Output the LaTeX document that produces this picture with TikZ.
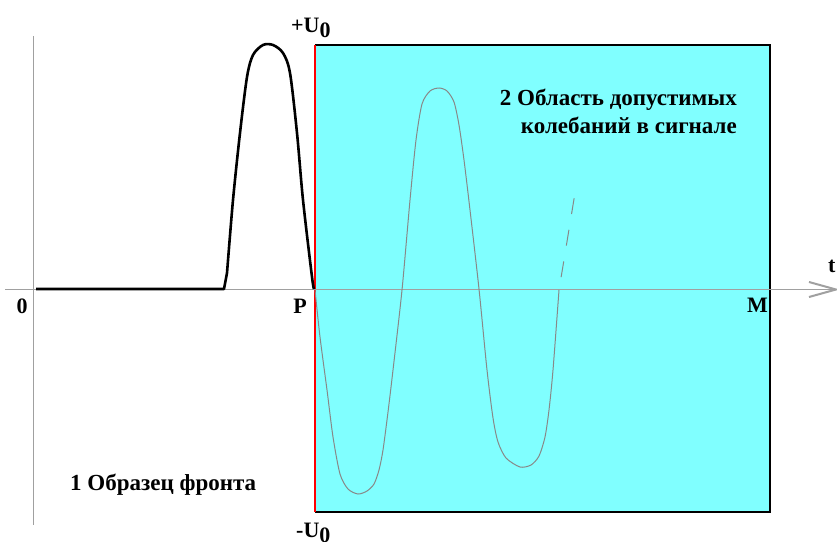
\documentclass[tikz,border=0pt]{standalone}
\usepackage{fontspec}
\setmainfont{Liberation Serif}
\definecolor{areacyan}{HTML}{80FFFF}
\definecolor{axisgray}{HTML}{A0A0A0}
\definecolor{curvegray}{HTML}{888888}
\begin{document}
\begin{tikzpicture}[x=1pt,y=-1pt,
  lbl/.style={font=\fontsize{22}{22}\selectfont\bfseries, inner sep=0pt},
  note/.style={font=\fontsize{23}{28}\selectfont\bfseries, inner sep=0pt, align=right},
  axisline/.style={axisgray, line width=1.2pt},
  wave/.style={curvegray, line width=1pt},
  pulse/.style={black, line width=2.6pt, line join=round}]
\useasboundingbox (0,0) rectangle (837,541);
% area 2
\coordinate (RTL) at (315,45);
\coordinate (RBR) at (770,512);
\fill[areacyan] (RTL) rectangle (RBR);
\draw[black, line width=2pt] (315,45) -- (770,45) -- (770,512) -- (315,512);
\draw[red, line width=2.4pt] (315,45) -- (315,512);
% axes
\coordinate (O) at (33,289.5);
\coordinate (Vtop) at (33,36);
\coordinate (Vbot) at (33,525);
\coordinate (Hleft) at (5,289.5);
\coordinate (Hright) at (837,289.5);
\draw[axisgray, line width=1pt] (Vtop) -- (Vbot);
\draw[axisline] (Hleft) -- (Hright);
\coordinate (tipA) at (809,282);
\coordinate (tipB) at (809,297);
\coordinate (tip) at (836,289.5);
\draw[axisgray, line width=2pt] (tipA) -- (tip) -- (tipB);
% front sample pulse
\draw[pulse] (36,289) -- (224,289) -- (227,273)
  plot[smooth, tension=0.5] coordinates {(227,273) (233,200) (240,133) (247,77) (253,55) (263,45) (273,45) (283,53) (290,73) (297,133) (303,200) (312,277) (314,289)};
% oscillation
\draw[wave] plot[smooth, tension=0.45] coordinates {
  (315,290) (320,337) (327,390) (333,437) (340,474) (348,489) (358,494) (367,491) (374,484) (379,470) (383,450) (388,412) (393,370) (402,290) (410,200) (416,140) (422,104) (430,91) (439,88) (447,91) (454,102) (459,125) (464,160) (470,210) (479,289) (487,370) (493,418) (498,442) (506,458) (520,467) (531,465) (539,456) (545,437) (549,410) (553,370) (559,290)};
\draw[wave, dash pattern=on 16pt off 16pt, dash phase=19pt] (559,290) -- (575,193);
% labels
\node[lbl, anchor=base] (zero) at (22,313) {0};
\node[lbl, anchor=base] (P) at (300,313) {P};
\node[lbl, anchor=base east] (M) at (768,312) {M};
\node[lbl, anchor=base west] (t) at (828,272) {t};
\node[lbl, anchor=base west] (Uplus) at (291,32) {+U\raisebox{-0.25em}{0}};
\node[lbl, anchor=base west] (Uminus) at (296,537) {-U\raisebox{-0.25em}{0}};
\node[note, anchor=base east] (area2) at (737,133) {2 Область допустимых\\колебаний в сигнале};
\node[note, anchor=base west] (front1) at (70,490) {1 Образец фронта};
\end{tikzpicture}
\end{document}
